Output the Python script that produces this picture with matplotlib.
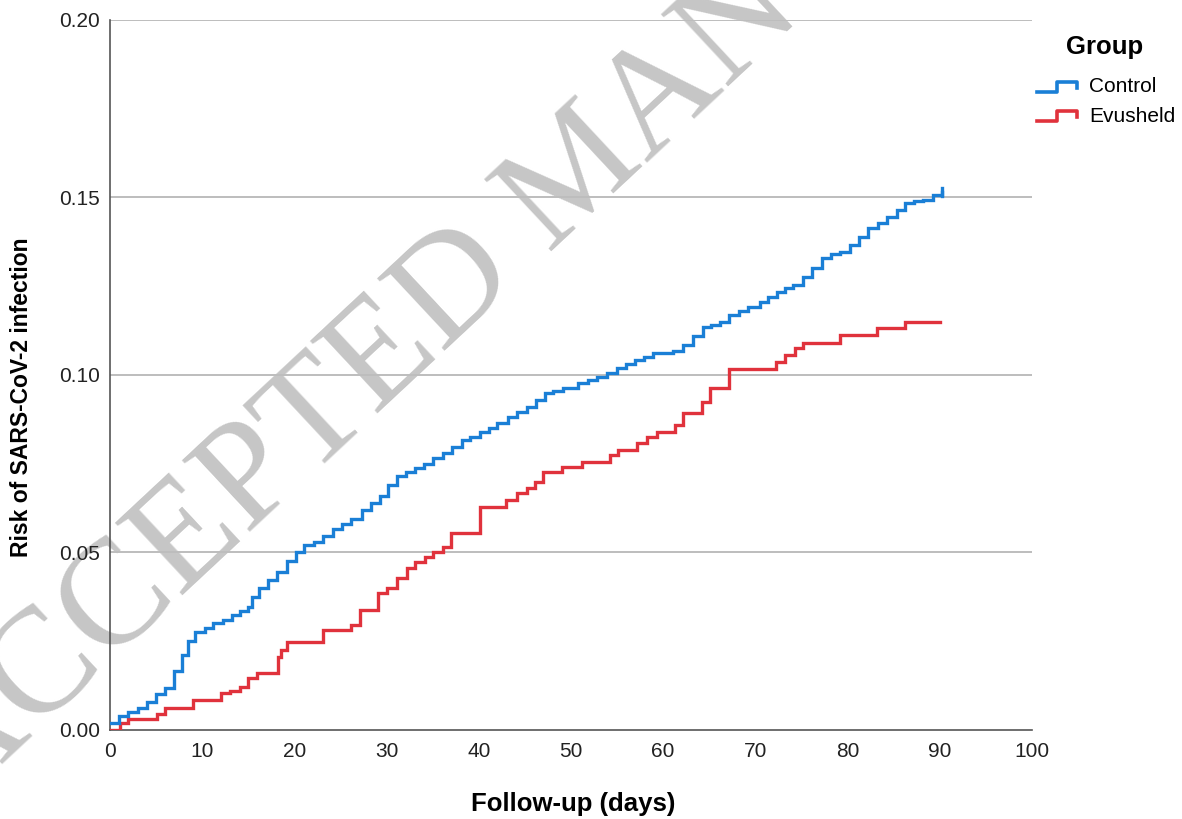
import matplotlib
matplotlib.use("Agg")
import matplotlib.pyplot as plt
from matplotlib.lines import Line2D

plt.rcParams['font.family'] = ['Liberation Sans', 'DejaVu Sans']

# cumulative risk, step times (days) and level after each step
control_days = [0, 1, 2, 3, 4, 5, 6, 7, 7.8, 8.5, 9.2, 10.3, 11.2, 12.3, 13.2, 14.1,
                15, 15.4, 16.2, 17.1, 18.1, 19.2, 20.2, 21.1, 22.1, 23.1, 24.2, 25.2,
                26.2, 27.3, 28.3, 29.3, 30.2, 31.1, 32.1, 33.1, 34.1, 35, 36.1, 37.1,
                38.2, 39.1, 40.1, 41.1, 42, 43.2, 44.2, 45.2, 46.2, 47.2, 48.1, 49.1,
                50.8, 51.8, 52.8, 53.9, 55, 56, 56.9, 57.9, 58.9, 61.1, 62.2, 63.2,
                64.3, 65.2, 66.2, 67.2, 68.2, 69.2, 70.5, 71.4, 72.3, 73.2, 74.1, 75.2,
                76.2, 77.2, 78.2, 79.2, 80.3, 81.3, 82.2, 83.3, 84.3, 85.4, 86.2, 87.2,
                88.2, 89.3, 90.2]
control_risk = [0.002, 0.004, 0.005, 0.0062, 0.008, 0.010, 0.0118, 0.0165, 0.021, 0.025,
                0.0275, 0.0287, 0.030, 0.031, 0.0325, 0.0335, 0.0347, 0.0375, 0.040,
                0.0423, 0.0445, 0.0475, 0.050, 0.052, 0.053, 0.0545, 0.0565, 0.058,
                0.0595, 0.062, 0.064, 0.066, 0.069, 0.0715, 0.0728, 0.0738, 0.075,
                0.0766, 0.078, 0.0797, 0.0817, 0.0825, 0.0838, 0.085, 0.0865, 0.0882,
                0.0895, 0.091, 0.093, 0.0949, 0.0955, 0.0963, 0.0977, 0.0985, 0.0994,
                0.1005, 0.102, 0.103, 0.1042, 0.105, 0.1062, 0.1068, 0.1085, 0.111,
                0.1135, 0.1142, 0.115, 0.117, 0.118, 0.119, 0.1206, 0.122, 0.1234,
                0.1245, 0.1254, 0.1276, 0.1301, 0.133, 0.134, 0.1347, 0.1366, 0.1389,
                0.1414, 0.1428, 0.1445, 0.1465, 0.1485, 0.149, 0.1493, 0.1507, 0.1515]

evusheld_days = [0, 1.1, 2, 5.1, 6, 9, 12.1, 13, 14.1, 15, 16, 18.2, 18.6, 19.2, 23.1,
                 26.2, 27.1, 29.1, 30, 31.1, 32.2, 33.1, 34.2, 35, 36.1, 37, 40.1, 43,
                 44.1, 45.2, 46.1, 47, 49, 51.2, 54.2, 55.1, 57.2, 58.2, 59.3, 61.3,
                 62.2, 64.2, 65.1, 67.1, 72.2, 73.2, 74.3, 75.2, 79.2, 83.2, 86.2, 90]
evusheld_risk = [0.0, 0.002, 0.0031, 0.0045, 0.0062, 0.0085, 0.0104, 0.011, 0.0121,
                 0.0146, 0.016, 0.0206, 0.0225, 0.0248, 0.0282, 0.0296, 0.0338, 0.0386,
                 0.040, 0.0428, 0.0456, 0.0473, 0.0487, 0.0501, 0.0515, 0.0555, 0.0628,
                 0.0648, 0.0668, 0.0682, 0.0699, 0.0727, 0.0741, 0.0755, 0.0775, 0.0789,
                 0.0808, 0.0825, 0.084, 0.086, 0.0893, 0.0924, 0.0963, 0.1017, 0.1037,
                 0.1056, 0.1076, 0.109, 0.1113, 0.1132, 0.115, 0.115]

x_ticks = [0, 10, 20, 30, 40, 50, 60, 70, 80, 90, 100]
y_ticks = [0.00, 0.05, 0.10, 0.15, 0.20]

BLUE = '#1a7fd6'
RED = '#e0323c'


def main():
  fig = plt.figure(figsize=(11.82, 8.19), dpi=100)
  ax = fig.add_axes([0.093, 0.1087, 0.78, 0.867])
  ax.patch.set_alpha(0)

  ax.set_xlim(0, 100)
  ax.set_ylim(0, 0.20)
  for y in y_ticks[1:]:
    ax.axhline(y, color='#bdbdbd', linewidth=1.4, zorder=1)

  ax.step(control_days, control_risk, where='post', color=BLUE, linewidth=2.4,
          zorder=4, solid_joinstyle='miter')
  ax.step(evusheld_days, evusheld_risk, where='post', color=RED, linewidth=2.4,
          zorder=3, solid_joinstyle='miter')
  # censor tick at end of control curve
  ax.plot([control_days[-1]] * 2, [control_risk[-1] - 0.0012, control_risk[-1] + 0.0012],
          color=BLUE, linewidth=2.4, zorder=4)

  ax.set_xticks(x_ticks)
  ax.set_yticks(y_ticks)
  ax.set_yticklabels([f"{v:.2f}" for v in y_ticks])
  ax.tick_params(length=0, labelsize=15, colors='#222222', pad=7)
  ax.tick_params(axis='x', pad=9)

  for s in ['top', 'right']:
    ax.spines[s].set_visible(False)
  for s in ['left', 'bottom']:
    ax.spines[s].set_color('#555555')
    ax.spines[s].set_linewidth(1.2)

  ax.set_xlabel("Follow-up (days)", fontsize=18.5, fontweight='bold')
  ax.xaxis.set_label_coords(0.502, -0.088)
  ax.set_ylabel("Risk of SARS-CoV-2 infection", fontsize=16.5, fontweight='bold')
  ax.yaxis.set_label_coords(-0.083, 0.469)

  # watermark, behind the axes
  fig.text(355 / 1182, 1 - 385 / 819, "ACCEPTED MAN", fontsize=108,
           family='Liberation Serif', color='#c6c6c6', rotation=43,
           ha='center', va='center', zorder=-1)

  # legend, drawn by hand to get the step-shaped keys
  fig.text(1105 / 1182, 1 - 47 / 819, "Group", fontsize=18.5, fontweight='bold',
           ha='center', va='center')
  for i, (lab, col) in enumerate([("Control", BLUE), ("Evusheld", RED)]):
    yc = 87 + 29 * i
    xs = [1037, 1057, 1057, 1077, 1077]
    ys = [yc + 5, yc + 5, yc - 5, yc - 5, yc + 1]
    fig.add_artist(Line2D([x / 1182 for x in xs], [1 - y / 819 for y in ys],
                          color=col, linewidth=2.6, transform=fig.transFigure))
    fig.text(1089 / 1182, 1 - yc / 819, lab, fontsize=15, ha='left', va='center')

  fig.savefig("out.png", dpi=100)


if __name__ == '__main__':
  main()
